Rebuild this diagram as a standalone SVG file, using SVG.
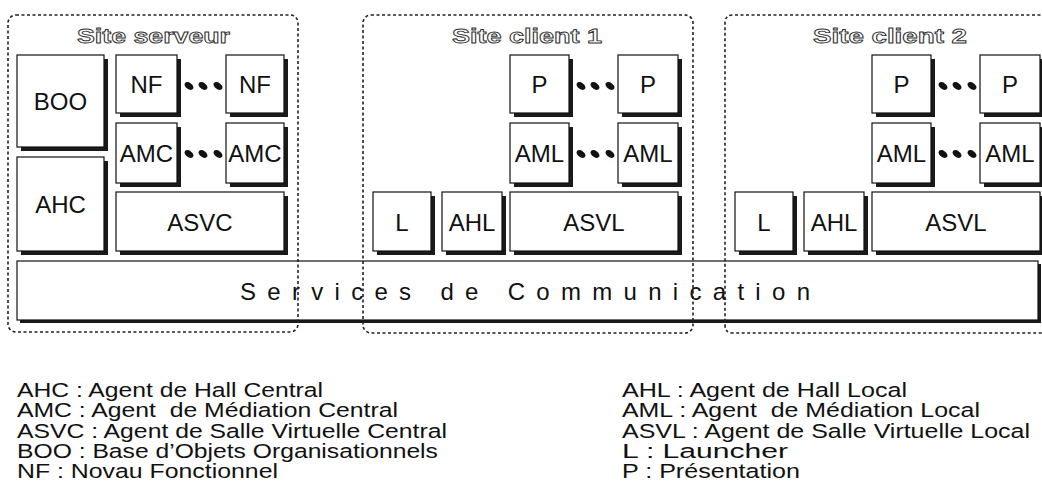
<svg xmlns="http://www.w3.org/2000/svg" xmlns:xlink="http://www.w3.org/1999/xlink" width="1042" height="493" viewBox="0 0 1042 493">
<defs>
<style>
.sh{fill:#1a1a1a}
.bx{fill:#fff;stroke:#111;stroke-width:1.2}
.lb{font-family:"Liberation Sans",Arial,sans-serif;font-size:24px;fill:#111;text-anchor:middle}
.ttl{font-family:"Liberation Sans",Arial,sans-serif;font-size:21px;font-weight:bold;fill:#fff;stroke:#333;stroke-width:0.9}
.lg{font-family:"Liberation Sans",Arial,sans-serif;font-size:19.5px;fill:#111}
.ct{fill:none;stroke:#222;stroke-width:1.6;stroke-dasharray:3 2.5}
.dot{fill:#111}
</style>
<g id="dots">
<ellipse class="dot" cx="12" cy="0" rx="5" ry="3.2" transform="rotate(35 12 0)"/>
<ellipse class="dot" cx="26" cy="0" rx="5" ry="3.2" transform="rotate(35 26 0)"/>
<ellipse class="dot" cx="41" cy="0" rx="5" ry="3.2" transform="rotate(35 41 0)"/>
</g>
</defs>
<rect width="1042" height="493" fill="#fff"/>

<!-- Communication bar -->
<g id="services">
<rect class="sh" x="20" y="264" width="1021" height="59"/>
<rect class="bx" x="17" y="261" width="1021" height="59"/>
<text class="lb" x="240" y="300" style="text-anchor:start" textLength="570" lengthAdjust="spacing">Services de Communication</text>
</g>

<!-- Server site -->
<g id="BOO"><rect class="sh" x="21" y="59" width="87" height="92"/><rect class="bx" x="17" y="55" width="87" height="92"/><text class="lb" x="60.5" y="110">BOO</text></g>
<g id="AHC"><rect class="sh" x="21" y="161" width="87" height="94"/><rect class="bx" x="17" y="157" width="87" height="94"/><text class="lb" x="60.5" y="213">AHC</text></g>
<g id="NF1"><rect class="sh" x="120" y="59" width="61" height="58"/><rect class="bx" x="116" y="55" width="61" height="58"/><text class="lb" x="146.5" y="92.5">NF</text></g>
<g id="NF2"><rect class="sh" x="230" y="59" width="58" height="58"/><rect class="bx" x="226" y="55" width="58" height="58"/><text class="lb" x="255" y="92.5">NF</text></g>
<g id="AMC1"><rect class="sh" x="120" y="127" width="61" height="60"/><rect class="bx" x="116" y="123" width="61" height="60"/><text class="lb" x="146.5" y="161.5">AMC</text></g>
<g id="AMC2"><rect class="sh" x="230" y="127" width="58" height="60"/><rect class="bx" x="226" y="123" width="58" height="60"/><text class="lb" x="255" y="161.5">AMC</text></g>
<g id="ASVC"><rect class="sh" x="120" y="196" width="168" height="59"/><rect class="bx" x="116" y="192" width="168" height="59"/><text class="lb" x="200" y="230.5">ASVC</text></g>

<!-- Client site 1 -->
<g id="P1a"><rect class="sh" x="514" y="59" width="59" height="58"/><rect class="bx" x="510" y="55" width="59" height="58"/><text class="lb" x="539.5" y="92.5">P</text></g>
<g id="P1b"><rect class="sh" x="622" y="59" width="60" height="58"/><rect class="bx" x="618" y="55" width="60" height="58"/><text class="lb" x="648" y="92.5">P</text></g>
<g id="AML1a"><rect class="sh" x="514" y="127" width="59" height="60"/><rect class="bx" x="510" y="123" width="59" height="60"/><text class="lb" x="539.5" y="161.5">AML</text></g>
<g id="AML1b"><rect class="sh" x="622" y="127" width="60" height="60"/><rect class="bx" x="618" y="123" width="60" height="60"/><text class="lb" x="648" y="161.5">AML</text></g>
<g id="L1"><rect class="sh" x="377" y="196" width="58" height="59"/><rect class="bx" x="373" y="192" width="58" height="59"/><text class="lb" x="402" y="230.5">L</text></g>
<g id="AHL1"><rect class="sh" x="446" y="196" width="60" height="59"/><rect class="bx" x="442" y="192" width="60" height="59"/><text class="lb" x="472" y="230.5">AHL</text></g>
<g id="ASVL1"><rect class="sh" x="514" y="196" width="168" height="59"/><rect class="bx" x="510" y="192" width="168" height="59"/><text class="lb" x="594" y="230.5">ASVL</text></g>

<!-- Client site 2 -->
<g id="P2a"><rect class="sh" x="876" y="59" width="59" height="58"/><rect class="bx" x="872" y="55" width="59" height="58"/><text class="lb" x="901.5" y="92.5">P</text></g>
<g id="P2b"><rect class="sh" x="984" y="59" width="60" height="58"/><rect class="bx" x="980" y="55" width="60" height="58"/><text class="lb" x="1010" y="92.5">P</text></g>
<g id="AML2a"><rect class="sh" x="876" y="127" width="59" height="60"/><rect class="bx" x="872" y="123" width="59" height="60"/><text class="lb" x="901.5" y="161.5">AML</text></g>
<g id="AML2b"><rect class="sh" x="984" y="127" width="60" height="60"/><rect class="bx" x="980" y="123" width="60" height="60"/><text class="lb" x="1010" y="161.5">AML</text></g>
<g id="L2"><rect class="sh" x="739" y="196" width="58" height="59"/><rect class="bx" x="735" y="192" width="58" height="59"/><text class="lb" x="764" y="230.5">L</text></g>
<g id="AHL2"><rect class="sh" x="808" y="196" width="60" height="59"/><rect class="bx" x="804" y="192" width="60" height="59"/><text class="lb" x="834" y="230.5">AHL</text></g>
<g id="ASVL2"><rect class="sh" x="876" y="196" width="168" height="59"/><rect class="bx" x="872" y="192" width="168" height="59"/><text class="lb" x="956" y="230.5">ASVL</text></g>

<!-- Connectors (dotted ellipses) -->
<g id="connectors">
<use xlink:href="#dots" href="#dots" x="177" y="86"/>
<use xlink:href="#dots" href="#dots" x="177" y="154"/>
<use xlink:href="#dots" href="#dots" x="569" y="86"/>
<use xlink:href="#dots" href="#dots" x="569" y="154"/>
<use xlink:href="#dots" href="#dots" x="931" y="86"/>
<use xlink:href="#dots" href="#dots" x="931" y="154"/>
</g>

<!-- Site containers -->
<g id="site-serveur">
<rect class="ct" x="8" y="15" width="290" height="317" rx="8"/>
<text class="ttl" x="77" y="43" textLength="153" lengthAdjust="spacingAndGlyphs">Site serveur</text>
</g>
<g id="site-client-1">
<rect class="ct" x="363" y="15" width="330" height="318" rx="8"/>
<text class="ttl" x="452" y="43" textLength="150" lengthAdjust="spacingAndGlyphs">Site client 1</text>
</g>
<g id="site-client-2">
<path class="ct" d="M1046 15 H733 Q725 15 725 23 V325 Q725 333 733 333 H1046"/>
<text class="ttl" x="813" y="43" textLength="154" lengthAdjust="spacingAndGlyphs">Site client 2</text>
</g>

<!-- Legend -->
<g id="legend" transform="scale(1.2 1)">
<text class="lg" x="14.17" y="397" textLength="255" lengthAdjust="spacingAndGlyphs">AHC : Agent de Hall Central</text>
<text class="lg" x="14.17" y="417.5" textLength="317.5" lengthAdjust="spacingAndGlyphs" xml:space="preserve">AMC : Agent  de Médiation Central</text>
<text class="lg" x="14.17" y="438" textLength="358.3" lengthAdjust="spacingAndGlyphs">ASVC : Agent de Salle Virtuelle Central</text>
<text class="lg" x="14.17" y="458" textLength="350.8" lengthAdjust="spacingAndGlyphs">BOO : Base d’Objets Organisationnels</text>
<text class="lg" x="14.17" y="478.5" textLength="217.5" lengthAdjust="spacingAndGlyphs">NF : Novau Fonctionnel</text>
<text class="lg" x="518.33" y="397" textLength="237.5" lengthAdjust="spacingAndGlyphs">AHL : Agent de Hall Local</text>
<text class="lg" x="518.33" y="417.5" textLength="298.3" lengthAdjust="spacingAndGlyphs" xml:space="preserve">AML : Agent  de Médiation Local</text>
<text class="lg" x="518.33" y="438" textLength="340" lengthAdjust="spacingAndGlyphs">ASVL : Agent de Salle Virtuelle Local</text>
<text class="lg" x="518.33" y="458" textLength="138.3" lengthAdjust="spacingAndGlyphs">L : Launcher</text>
<text class="lg" x="518.33" y="478.5" textLength="148.3" lengthAdjust="spacingAndGlyphs">P : Présentation</text>
</g>
</svg>
